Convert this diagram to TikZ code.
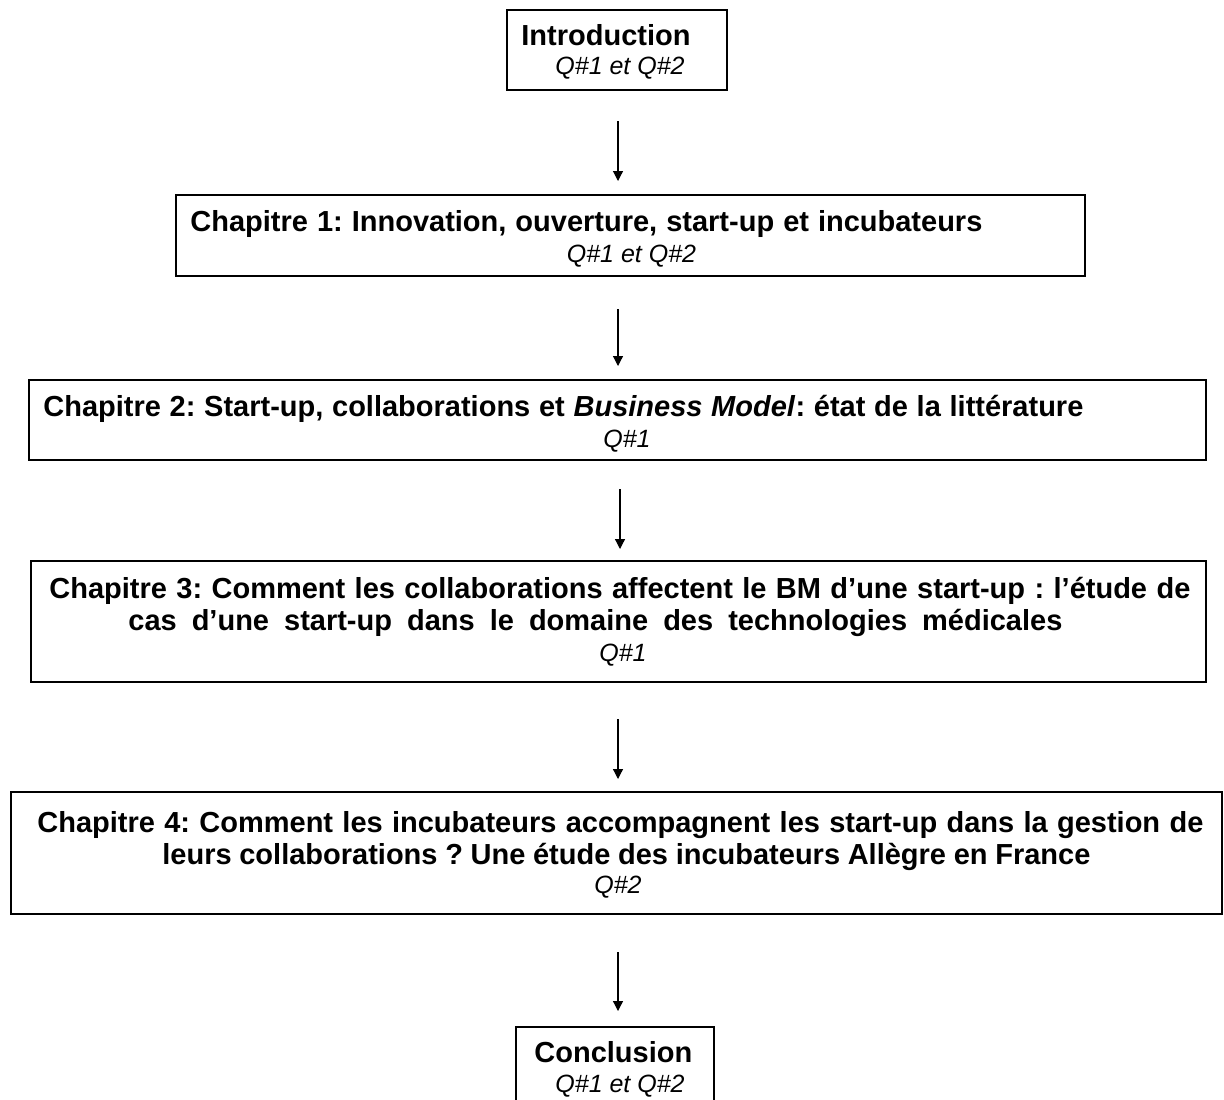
\documentclass[tikz,border=0pt]{standalone}
\usepackage{fontspec}
\setmainfont{Liberation Sans}
\usetikzlibrary{arrows.meta, positioning}
\frenchspacing

\tikzset{
	boite/.style={draw, line width=0.9pt, inner sep=0pt},
	titre/.style={font=\fontsize{14.5}{16}\selectfont\bfseries, inner sep=0pt},
	question/.style={font=\fontsize{12.5}{14}\selectfont\itshape, inner sep=0pt},
	fleche/.style={-{Triangle[length=5pt,width=5pt]}, line width=0.6pt}
}

\begin{document}
\begin{tikzpicture}[x=0.5pt,y=-0.5pt]
			
			% Cadre de la page
			\useasboundingbox (0,0) rectangle (1224,1099);
			\clip (0,0) rectangle (1224,1099);
			
			% Dessiner les cadres
			\node[boite, minimum width=110pt, minimum height=40pt] (intro) at (617,50) {};
			\node[boite, minimum width=454.5pt, minimum height=40.5pt] (chap1) at (630.5,235.5) {};
			\node[boite, minimum width=588.5pt, minimum height=40pt] (chap2) at (617.5,420) {};
			\node[boite, minimum width=587.5pt, minimum height=60.5pt] (chap3) at (618.5,621.5) {};
			\node[boite, minimum width=605.5pt, minimum height=61pt] (chap4) at (616.5,853) {};
			\node[boite, minimum width=99pt, minimum height=46.5pt] (concl) at (615,1073.5) {};
			
			% Textes des cadres
			\node[titre, anchor=base west] (intro-t) at (521,45) {Introduction};
			\node[question, anchor=base west] (intro-q) at (555,74) {Q\#1 et Q\#2};
			
			\node[titre, anchor=base west] (chap1-t) at (190,231) {\makebox[396pt][s]{Chapitre 1: Innovation, ouverture, start-up et incubateurs}};
			\node[question, anchor=base] (chap1-q) at (631.5,262) {Q\#1 et Q\#2};
			
			\node[titre, anchor=base west] (chap2-t) at (43,416) {\makebox[520pt][s]{Chapitre 2: Start-up, collaborations et \textit{Business Model}: état de la littérature}};
			\node[question, anchor=base] (chap2-q) at (627,447) {Q\#1};
			
			\node[titre, anchor=base west] (chap3-t1) at (49,598) {\makebox[570.5pt][s]{Chapitre 3: Comment les collaborations affectent le BM d’une start-up : l’étude de}};
			\node[titre, anchor=base west] (chap3-t2) at (128,630) {\makebox[467pt][s]{cas d’une start-up dans le domaine des technologies médicales}};
			\node[question, anchor=base] (chap3-q) at (623,661) {Q\#1};
			
			\node[titre, anchor=base west] (chap4-t1) at (37,832) {\makebox[583pt][s]{Chapitre 4: Comment les incubateurs accompagnent les start-up dans la gestion de}};
			\node[titre, anchor=base west] (chap4-t2) at (162,864) {\makebox[464pt][s]{leurs collaborations ? Une étude des incubateurs Allègre en France}};
			\node[question, anchor=base] (chap4-q) at (618,893) {Q\#2};
			
			\node[titre, anchor=base west] (concl-t) at (534,1062) {Conclusion};
			\node[question, anchor=base west] (concl-q) at (555,1092) {Q\#1 et Q\#2};
			
			% Dessiner les flèches
			\coordinate (f1h) at (618,121);
			\coordinate (f1b) at (618,181);
			\coordinate (f2h) at (618,309);
			\coordinate (f2b) at (618,366);
			\coordinate (f3h) at (620,489);
			\coordinate (f3b) at (620,549);
			\coordinate (f4h) at (618,719);
			\coordinate (f4b) at (618,779);
			\coordinate (f5h) at (618,952);
			\coordinate (f5b) at (618,1011);
			\draw[fleche] (f1h) -- (f1b);
			\draw[fleche] (f2h) -- (f2b);
			\draw[fleche] (f3h) -- (f3b);
			\draw[fleche] (f4h) -- (f4b);
			\draw[fleche] (f5h) -- (f5b);
			
\end{tikzpicture}
\end{document}
